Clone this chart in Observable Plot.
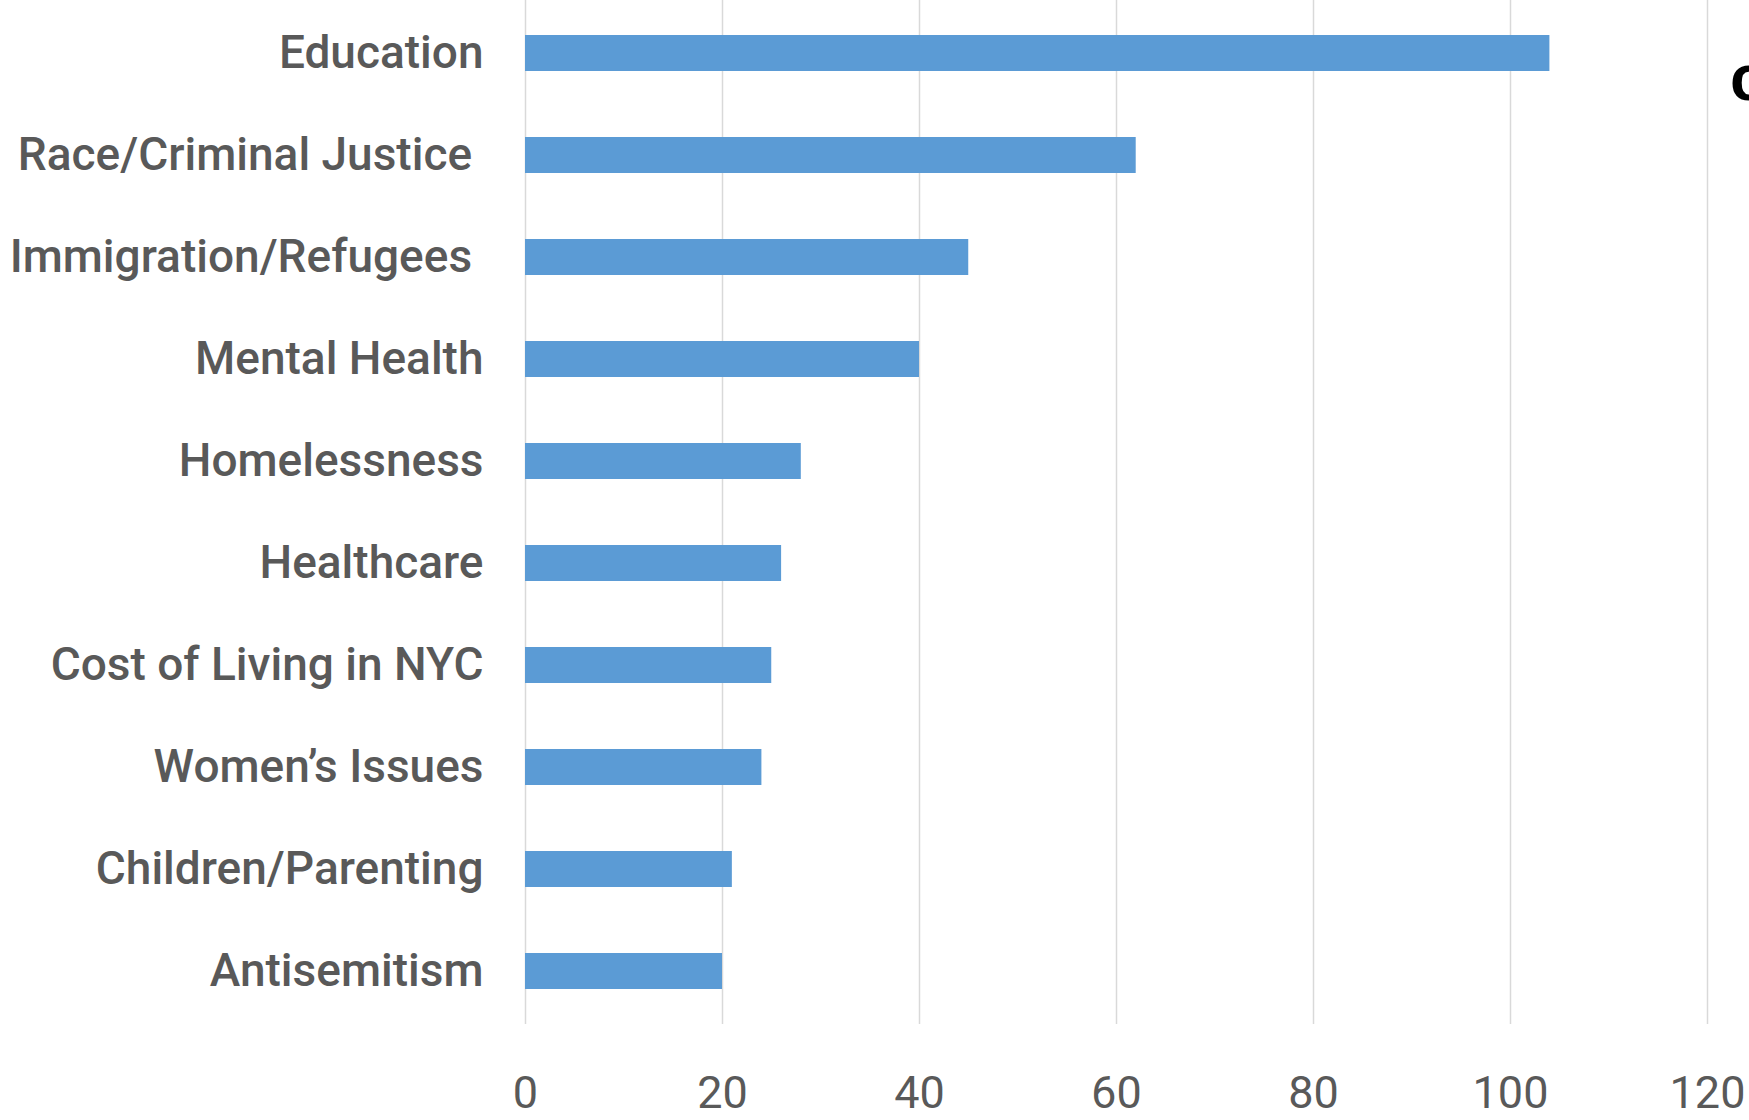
<!DOCTYPE html>
<html>
<head>
<meta charset="utf-8">
<script src="https://cdn.jsdelivr.net/npm/d3@7"></script>
<script src="https://cdn.jsdelivr.net/npm/@observablehq/plot@0.6"></script>
<style>
  html, body { margin: 0; padding: 0; background: #ffffff; overflow: hidden; }
  #wrap { position: relative; width: 1749px; height: 1120px; }
  #cut-title { position: absolute; left: 1730px; top: 46px; font-family: "Liberation Sans", Arial, sans-serif; font-weight: bold; font-size: 64px; line-height: 64px; color: #000; white-space: nowrap; }
</style>
</head>
<body>
<div id="wrap">
  <div id="chart"></div>
  <div id="cut-title">c</div>
</div>
<script>
const categories = [
  "Education",
  "Race/Criminal Justice\u00a0",
  "Immigration/Refugees\u00a0",
  "Mental Health",
  "Homelessness",
  "Healthcare",
  "Cost of Living in NYC",
  "Women’s Issues",
  "Children/Parenting",
  "Antisemitism"
];
const values = [104, 62, 45, 40, 28, 26, 25, 24, 21, 20];
const xTicks = [0, 20, 40, 60, 80, 100, 120];

const data = categories.map((c, i) => ({category: c, value: values[i]}));

const chart = Plot.plot({
  width: 1749,
  height: 1120,
  marginLeft: 525,
  marginRight: 42,
  marginTop: 0,
  marginBottom: 96,
  style: {fontFamily: "Roboto, 'Noto Sans', sans-serif", background: "#ffffff"},
  x: {domain: [0, 120], ticks: xTicks},
  y: {domain: categories, paddingInner: 0.65, paddingOuter: 0.325},
  marks: [
    Plot.gridX(xTicks, {stroke: "#d9d9d9", strokeOpacity: 1, strokeWidth: 1.5}),
    Plot.barX(data, {x: "value", y: "category", fill: "#5b9bd5"}),
    Plot.axisX({ticks: xTicks, tickSize: 0, tickPadding: 52, fontSize: 45, color: "#595959", label: null}),
    Plot.axisY({tickSize: 0, tickPadding: 42, fontSize: 46, fontWeight: 500, color: "#595959", label: null})
  ]
});
document.getElementById("chart").appendChild(chart);
</script>
</body>
</html>
